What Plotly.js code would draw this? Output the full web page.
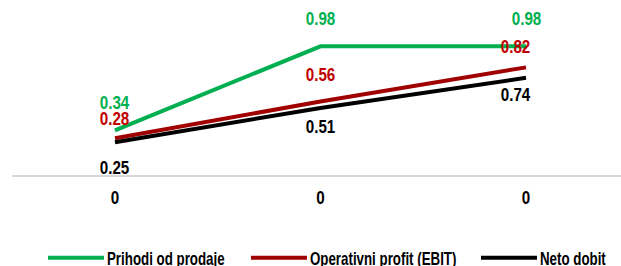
<!DOCTYPE html>
<html><head><meta charset="utf-8">
<script src="https://cdn.plot.ly/plotly-3.0.1.min.js"></script>
<style>
html,body{margin:0;padding:0;background:#fff}#chart{width:621px;height:266px}
</style>
</head><body><div id="chart"></div>
<script>
// Data
const categories = ["0", "0", "0"];
const seriesNames = ["Prihodi od prodaje", "Operativni profit (EBIT)", "Neto dobit"];
const prihodi = [0.34, 0.98, 0.98];
const ebit = [0.28, 0.56, 0.82];
const neto = [0.25, 0.51, 0.74];

const FONT = '"Liberation Sans", Arial, sans-serif';
const lineColors = ["#00b050", "#a00000", "#000000"];
const textColors = ["#00b050", "#c00000", "#000000"];
const series = [prihodi, ebit, neto];
const xIdx = categories.map((c, i) => i);
const legendIds = ["legend", "legend2", "legend3"];
const legendX = [0.0903, 0.4236, 0.8013];

// label offsets (px) per series/point
const yShifts = [[28, 28, 28], [20, 27, 21], [-25, -18, -17]];
const xShifts = [[0, 0, 0], [0, 0, -11], [0, 0, -11]];

const traces = series.map((vals, s) => ({
  x: xIdx, y: vals, type: "scatter", mode: "lines", name: seriesNames[s],
  legend: legendIds[s],
  line: {color: lineColors[s], width: 4}, hoverinfo: "skip"
}));

const annotations = [];
series.forEach((vals, s) => vals.forEach((v, i) => {
  annotations.push({
    x: xIdx[i], y: v, xref: "x", yref: "y", text: v.toFixed(2), showarrow: false,
    xanchor: "center", yanchor: "middle", yshift: yShifts[s][i], xshift: xShifts[s][i],
    font: {family: FONT, size: 19, color: textColors[s], weight: "bold"}
  });
}));

const layout = {
  width: 621, height: 266,
  margin: {l: 12, r: 0, t: 0, b: 91, autoexpand: false},
  paper_bgcolor: "#fff", plot_bgcolor: "#fff",
  showlegend: true,
  xaxis: {
    range: [-0.501, 2.462], tickmode: "array", tickvals: xIdx, ticktext: categories,
    showgrid: false, zeroline: false, showline: true, linecolor: "#d9d9d9", linewidth: 2,
    ticks: "outside", ticklen: 4, tickcolor: "rgba(0,0,0,0)",
    tickfont: {family: FONT, size: 19, color: "#000", weight: "bold"}
  },
  yaxis: {range: [0, 1.333], visible: false, showgrid: false, zeroline: false, fixedrange: true},
  annotations: annotations
};
legendIds.forEach((id, s) => {
  layout[id] = {orientation: "h", x: legendX[s], xanchor: "left", y: -0.475, yanchor: "middle",
    bgcolor: "rgba(0,0,0,0)",
    font: {family: FONT, size: 18, color: "#000", weight: "bold"}};
});

const gd = document.getElementById("chart");
function squeeze(t, k) {
  const tr = t.getAttribute("transform") || "";
  if (tr.indexOf("scale(") >= 0) return;
  const x = parseFloat(t.getAttribute("x") || "0");
  t.setAttribute("transform", (tr + " translate(" + x + ",0) scale(" + k + ",1) translate(" + (-x) + ",0)").trim());
}
function narrow() {
  gd.querySelectorAll(".scrollbox").forEach(e => e.removeAttribute("clip-path"));
  gd.querySelectorAll(".legendlines path").forEach(p => p.setAttribute("d", "M-19,0h56"));
  gd.querySelectorAll("text.annotation-text, .xtick text").forEach(t => squeeze(t, 0.8));
  gd.querySelectorAll("g.legend text, g.legend2 text, g.legend3 text").forEach(t => squeeze(t, 0.74));
}
Plotly.newPlot(gd, traces, layout, {displayModeBar: false, staticPlot: true}).then(() => {
  narrow();
  setTimeout(narrow, 0);
  setTimeout(narrow, 50);
});
</script></body></html>
